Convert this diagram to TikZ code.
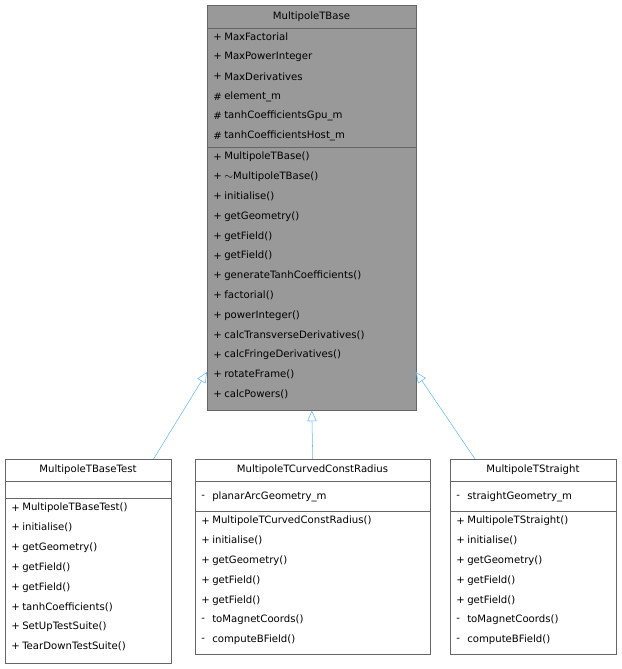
\documentclass[tikz,border=0pt]{standalone}
\usepackage{fontspec}
\setmainfont{DejaVu Sans}
\usetikzlibrary{positioning,arrows.meta}
\definecolor{edgeblue}{HTML}{63B8FF}
\definecolor{boxline}{HTML}{666666}
\tikzset{classbox/.style={draw=boxline,rectangle,anchor=north west,inner sep=0},
    member/.style={anchor=west,inner sep=0,font=\fontsize{7.6}{9}\selectfont},
    inherit/.style={draw=edgeblue,-{Triangle[open,length=8pt,width=7pt]}}
}
\newcommand{\classrows}[4]
{
% args: (left x, y of first row centre, row step, list of sign/name pairs)
    \foreach \s/\n [count=\i] in {#4}
    {
        \node [member] at (#1+6,{#2+(\i-1)*#3}) {\s};
        \node [member] at (#1+17,{#2+(\i-1)*#3}) {\n};
    }
}
\begin{document}
\begin{tikzpicture}[x=0.75pt,y=-0.75pt]
\useasboundingbox (0,0) rectangle (622,669);

% base class
\node (base) [classbox,fill=black!40,minimum width=209*0.75pt,minimum height=405*0.75pt] at (207,5) {};
\draw [boxline] (207,28) -- (416,28) (207,147) -- (416,147);
\node [member,anchor=center] at (311.5,17) {MultipoleTBase};
\classrows{207}{37}{19.8}{+/MaxFactorial,+/MaxPowerInteger,+/MaxDerivatives,\#/element\_m,\#/tanhCoefficientsGpu\_m,\#/tanhCoefficientsHost\_m}
\classrows{207}{157}{19.8}{+/MultipoleTBase(),+/$\sim$MultipoleTBase(),+/initialise(),+/getGeometry(),+/getField(),+/getField(),+/generateTanhCoefficients(),+/factorial(),+/powerInteger(),+/calcTransverseDerivatives(),+/calcFringeDerivatives(),+/rotateFrame(),+/calcPowers()}

% derived classes
\node (test) [classbox,fill=white,minimum width=166*0.75pt,minimum height=204*0.75pt] at (5,459) {};
\draw [boxline] (5,481) -- (171,481) (5,498) -- (171,498);
\node [member,anchor=center] at (88,470) {MultipoleTBaseTest};
\classrows{5}{508}{19.8}{+/MultipoleTBaseTest(),+/initialise(),+/getGeometry(),+/getField(),+/getField(),+/tanhCoefficients(),+/SetUpTestSuite(),+/TearDownTestSuite()}

\node (curved) [classbox,fill=white,minimum width=235*0.75pt,minimum height=195*0.75pt] at (195,459) {};
\draw [boxline] (195,481) -- (430,481) (195,511) -- (430,511);
\node [member,anchor=center] at (312.5,470) {MultipoleTCurvedConstRadius};
\classrows{195}{497}{19.8}{-/planarArcGeometry\_m}
\classrows{195}{521}{19.8}{+/MultipoleTCurvedConstRadius(),+/initialise(),+/getGeometry(),+/getField(),+/getField(),-/toMagnetCoords(),-/computeBField()}

\node (straight) [classbox,fill=white,minimum width=166*0.75pt,minimum height=195*0.75pt] at (450,459) {};
\draw [boxline] (450,481) -- (616,481) (450,511) -- (616,511);
\node [member,anchor=center] at (533,470) {MultipoleTStraight};
\classrows{450}{497}{19.8}{-/straightGeometry\_m}
\classrows{450}{521}{19.8}{+/MultipoleTStraight(),+/initialise(),+/getGeometry(),+/getField(),+/getField(),-/toMagnetCoords(),-/computeBField()}

% inheritance
\coordinate (baseL) at (207,372);
\coordinate (baseR) at (416,372);
\draw [inherit] ([xshift=-18*0.75pt]test.north east) -- (baseL);
\draw [inherit] (curved.north) -- (base.south);
\draw [inherit] ([xshift=25*0.75pt]straight.north west) -- (baseR);

\end{tikzpicture}
\end{document}
